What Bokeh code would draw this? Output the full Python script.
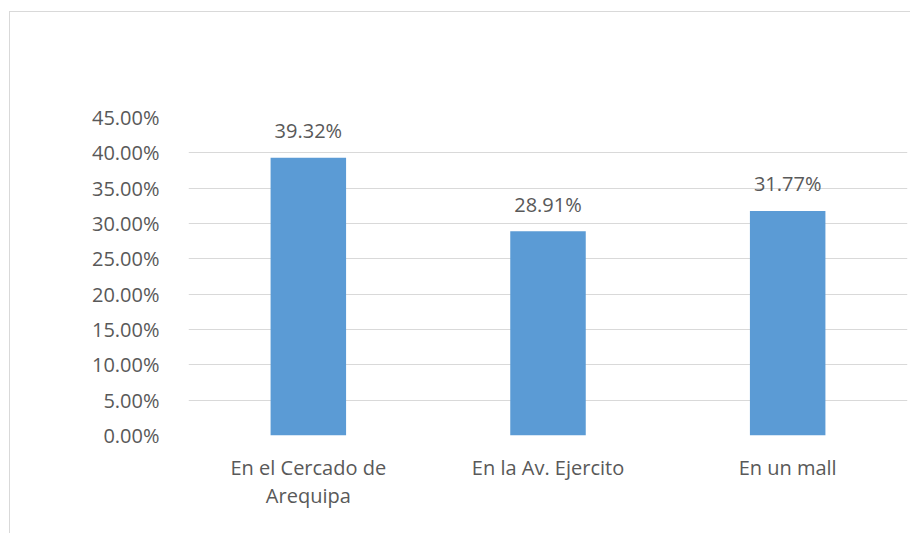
from bokeh.plotting import figure
from bokeh.models import (ColumnDataSource, Range1d, NumeralTickFormatter,
                          FixedTicker, LinearAxis)
from bokeh.embed import file_html
from bokeh.resources import INLINE
from bokeh.core.properties import value

categories = ["En el Cercado de Arequipa", "En la Av. Ejercito", "En un mall"]
category_labels = ["En el Cercado de\nArequipa", "En la Av. Ejercito", "En un mall"]
values = [0.3932, 0.2891, 0.3177]
value_labels = ["39.32%", "28.91%", "31.77%"]
y_ticks = [0.0, 0.05, 0.10, 0.15, 0.20, 0.25, 0.30, 0.35, 0.40, 0.45]

FONT = "Open Sans"
TXT = "#595959"

idx = list(range(len(categories)))
line1 = [s.split("\n")[0] for s in category_labels]
line2 = [s.split("\n")[1] if "\n" in s else "" for s in category_labels]
src = ColumnDataSource(dict(x=idx, val=values, lab=value_labels))

p = figure(x_range=Range1d(-0.5, len(categories) - 0.5), y_range=Range1d(0, 0.45),
           width=901, height=522, output_backend="svg", toolbar_location=None,
           min_border_left=178, min_border_right=4, min_border_top=105, min_border_bottom=99,
           x_axis_location=None)
p.outline_line_color = None
p.background_fill_color = "white"
p.border_fill_color = "white"
p.styles = {"border-top": "1px solid #d9d9d9", "border-left": "1px solid #d9d9d9",
            "margin-top": "11px", "margin-left": "9px"}

p.vbar(x="x", top="val", width=0.315, source=src, color="#5B9BD5", line_color=None)
p.text(x="x", y="val", text="lab", source=src, text_align="center", text_baseline="alphabetic",
       y_offset=-27, text_font=value(FONT), text_font_size="20px", text_color=TXT)

p.xgrid.grid_line_color = None
p.ygrid.grid_line_color = "#d9d9d9"
p.ygrid.grid_line_width = 1
p.ygrid.ticker = FixedTicker(ticks=y_ticks)

p.yaxis.ticker = FixedTicker(ticks=y_ticks)
p.yaxis.formatter = NumeralTickFormatter(format="0.00%")
p.yaxis.axis_line_color = None
p.yaxis.major_tick_line_color = None
p.yaxis.minor_tick_line_color = None
p.yaxis.major_label_standoff = 23
p.yaxis.major_label_text_font = FONT
p.yaxis.major_label_text_font_size = "20px"
p.yaxis.major_label_text_color = TXT

def make_xaxis(labels, standoff):
    ax = LinearAxis(ticker=FixedTicker(ticks=idx))
    ax.axis_line_color = None
    ax.major_tick_line_color = None
    ax.minor_tick_line_color = None
    ax.major_tick_out = 0
    ax.major_tick_in = 0
    ax.major_label_overrides = {i: lab for i, lab in zip(idx, labels)}
    ax.major_label_standoff = standoff
    ax.major_label_text_font = FONT
    ax.major_label_text_font_size = "20px"
    ax.major_label_text_color = TXT
    ax.major_label_orientation = "horizontal"
    return ax

p.add_layout(make_xaxis(line1, 18), "below")
p.add_layout(make_xaxis(line2, -2), "below")

open("out.html", "w").write(file_html(p, INLINE))
